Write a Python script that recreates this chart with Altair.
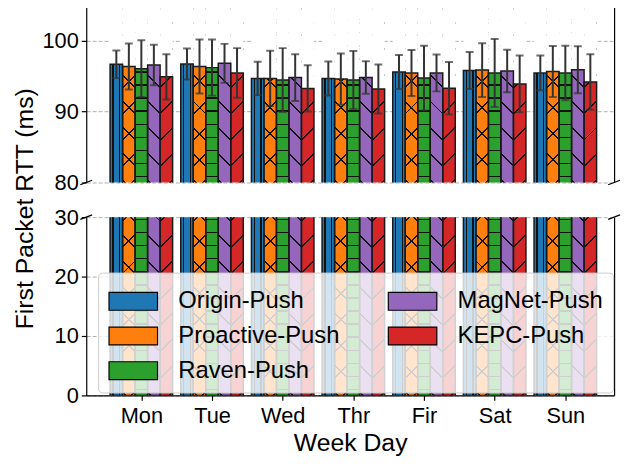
import altair as alt
import pandas as pd

# ---------------- data ----------------
days = ["Mon", "Tue", "Wed", "Thr", "Fir", "Sat", "Sun"]
series = ["Origin-Push", "Proactive-Push", "Raven-Push", "MagNet-Push", "KEPC-Push"]
colors = ["#1f77b4", "#ff7f0e", "#2ca02c", "#9467bd", "#d62728"]
hatches = ["|", "x", "-", "\\", "/"]

origin_mean = [96.67, 96.71, 94.67, 94.67, 95.58, 95.80, 95.45]
proactive_mean = [96.35, 96.35, 94.67, 94.58, 95.45, 95.85, 95.66]
raven_mean = [96.05, 96.20, 94.45, 94.45, 94.72, 95.45, 95.45]
magnet_mean = [96.58, 96.80, 94.80, 94.80, 95.45, 95.72, 95.90]
kepc_mean = [94.90, 95.45, 93.27, 93.18, 93.30, 93.90, 94.17]

origin_std = [1.95, 2.20, 2.35, 2.40, 2.40, 2.60, 2.45]
proactive_std = [3.25, 3.80, 3.90, 3.60, 3.25, 3.80, 3.60]
raven_std = [4.00, 3.95, 4.50, 4.10, 4.55, 4.80, 3.85]
magnet_std = [2.85, 2.75, 3.30, 2.30, 2.60, 3.00, 3.30]
kepc_std = [3.20, 3.50, 3.25, 3.45, 3.70, 4.00, 3.90]

top_limits = [80, 105]
bottom_limits = [0, 30]
top_ticks = [80, 90, 100]
bottom_ticks = [0, 10, 20, 30]

# ---------------- layout constants ----------------
PLOT_W = 533
TOP_H = 179
BOT_H = 180
GAP = 35
X_DOM = [-0.78, 6.69]
BAR_W = 0.177
FONT = "Liberation Sans"

means = [origin_mean, proactive_mean, raven_mean, magnet_mean, kepc_mean]
stds = [origin_std, proactive_std, raven_std, magnet_std, kepc_std]

rows = []
for si, name in enumerate(series):
    for di, d in enumerate(days):
        c = di + (si - 2) * BAR_W
        m = means[si][di]
        s = stds[si][di]
        rows.append(dict(day=d, series=name, mean=m, std=s, xc=c,
                         x0=c - BAR_W / 2, x1=c + BAR_W / 2, lo=m - s, hi=m + s))
df = pd.DataFrame(rows)

# ---------------- hatch gradients ----------------
TR = "rgba(0,0,0,0)"
INK = "#111111"
PX_PER_X = PLOT_W / (X_DOM[1] - X_DOM[0])
BAR_PX = BAR_W * PX_PER_X


def band_stops(centers, half, length):
    stops = [{"offset": 0, "color": TR}]
    for c in sorted(centers):
        a = max(0.0, (c - half) / length)
        b = min(1.0, (c + half) / length)
        if b <= 0 or a >= 1:
            continue
        a = round(a, 5)
        b = round(b, 5)
        stops += [{"offset": a, "color": TR}, {"offset": a, "color": INK},
                  {"offset": b, "color": INK}, {"offset": b, "color": TR}]
    stops.append({"offset": 1, "color": TR})
    return stops


def hatch_gradient(kind, h):
    w = BAR_PX
    if kind == "|":
        centers = [w / 2 - 3.35, w / 2 + 3.35]
        return {"gradient": "linear", "x1": 0, "y1": 0, "x2": 1, "y2": 0,
                "stops": band_stops(centers, 0.7, w)}
    if kind == "-":
        centers = []
        y = h - 6.0
        while y > 0:
            centers.append(y)
            y -= 13.2
        return {"gradient": "linear", "x1": 0, "y1": 0, "x2": 0, "y2": 1,
                "stops": band_stops(centers, 0.7, h)}
    L = w + h
    k = w * L / (w * w + h * h)
    centers = []
    c = 4.0
    while c < L:
        centers.append(c)
        c += 26.4
    stops = band_stops(centers, 1.0, L)
    if kind == "/":
        return {"gradient": "linear", "x1": 0, "y1": 0, "x2": round(k, 6),
                "y2": round(k * h / w, 6), "stops": stops}
    return {"gradient": "linear", "x1": 1, "y1": 0, "x2": round(1 - k, 6),
            "y2": round(k * h / w, 6), "stops": stops}


label_expr = "[" + ",".join("'%s'" % d for d in days) + "][datum.value]"


def panel(limits, ticks, height, is_top):
    ymin, ymax = limits
    data = df.assign(floor=ymin, ceil=ymax, base=0,
                     top=df["mean"].clip(upper=ymax))
    base = alt.Chart(data)
    xs = alt.Scale(domain=X_DOM, nice=False, zero=False)
    ys = alt.Scale(domain=limits, nice=False, zero=False)
    if is_top:
        xax = alt.Axis(orient="top", values=list(range(len(days))), labels=False,
                       ticks=False, domain=True, grid=True, title=None)
        yax = alt.Axis(values=ticks, title="First Packet RTT (ms)", titleX=-54,
                       titleY=205, titleAngle=270, titleAlign="center",
                       titleBaseline="alphabetic")
    else:
        xax = alt.Axis(orient="bottom", values=list(range(len(days))),
                       labelExpr=label_expr, grid=True, title="Week Day",
                       labelPadding=5, titlePadding=5)
        yax = alt.Axis(values=ticks, title=None)

    def X(f):
        return alt.X(f + ":Q", scale=xs, axis=xax)

    def Y(f):
        return alt.Y(f + ":Q", scale=ys, axis=yax)

    if is_top:
        leg = None
    else:
        leg = alt.Legend(title=None, orient="none", legendX=12, legendY=56,
                         columns=2, symbolType="M-1,-0.5H1.722V0.5H-1Z",
                         symbolSize=1296, symbolStrokeColor="black",
                         symbolStrokeWidth=1.2, symbolOpacity=1,
                         labelFont=FONT, labelFontSize=24, labelColor="black",
                         labelLimit=400, labelOffset=33, columnPadding=46,
                         rowPadding=4, padding=10,
                         fillColor="rgba(255,255,255,0.8)",
                         strokeColor="#cccccc", cornerRadius=4, zindex=2)

    layers = []
    layers.append(base.mark_bar(clip=True, strokeWidth=0).encode(
        x=X("x0"), x2="x1", y=Y("mean"), y2="base",
        color=alt.Color("series:N", scale=alt.Scale(domain=series, range=colors),
                        legend=leg)))
    for si, name in enumerate(series):
        kinds = ["/", "\\"] if hatches[si] == "x" else [hatches[si]]
        for kd in kinds:
            layers.append(base.transform_filter(alt.datum.series == name).mark_bar(
                fill=hatch_gradient(kd, height), strokeWidth=0).encode(
                x=X("x0"), x2="x1", y=Y("ceil"), y2="floor"))
    layers.append(base.mark_bar(fill="white", strokeWidth=0).encode(
        x=X("x0"), x2="x1", y=Y("ceil"), y2="top"))
    layers.append(base.mark_bar(clip=True, fillOpacity=0, stroke="#1a1a1a",
                                strokeWidth=1.5).encode(
        x=X("x0"), x2="x1", y=Y("mean"), y2="base"))
    layers.append(base.mark_rule(clip=True, color="#333333", strokeWidth=2).encode(
        x=X("xc"), y=Y("lo"), y2="hi"))
    for f in ["lo", "hi"]:
        layers.append(base.mark_tick(clip=True, orient="horizontal", size=8,
                                     thickness=2, color="#333333").encode(
            x=X("xc"), y=Y(f)))
    inner = alt.layer(*layers)

    brk_y = ymin if is_top else ymax
    brk = alt.Chart(pd.DataFrame({"x": X_DOM, "y": [brk_y, brk_y]})).mark_point(
        shape="M-1,0.38L1,-0.38", size=144, filled=False, stroke="black",
        strokeWidth=1.2, opacity=1).encode(
        x=alt.X("x:Q", scale=xs, axis=None),
        y=alt.Y("y:Q", scale=ys, axis=alt.Axis(orient="right", labels=False, ticks=False,
                                               grid=False, domain=True, title=None)))
    return alt.layer(inner, brk).resolve_axis(x="independent", y="independent").properties(
        width=PLOT_W, height=height)


top_chart = panel(top_limits, top_ticks, TOP_H, True)
bot_chart = panel(bottom_limits, bottom_ticks, BOT_H, False)

chart = alt.vconcat(top_chart, bot_chart, spacing=GAP, bounds="flush").resolve_scale(
    x="independent", y="independent", color="independent").resolve_legend(
    color="independent").properties(
    padding={"left": 5, "top": -5, "right": 0, "bottom": 0}
).configure_view(stroke=None).configure_axis(
    domainColor="black", domainWidth=1.2, tickColor="black", tickWidth=1.2,
    tickSize=5, labelColor="black", labelFont=FONT, labelFontSize=22,
    labelPadding=3, titleColor="black", titleFont=FONT, titleFontSize=25,
    titleFontWeight="normal", gridColor="#b0b0b0", gridDash=[4, 2],
    gridWidth=1, zindex=1
)

chart.save("out.html", embed_options={"renderer": "svg", "actions": False})
